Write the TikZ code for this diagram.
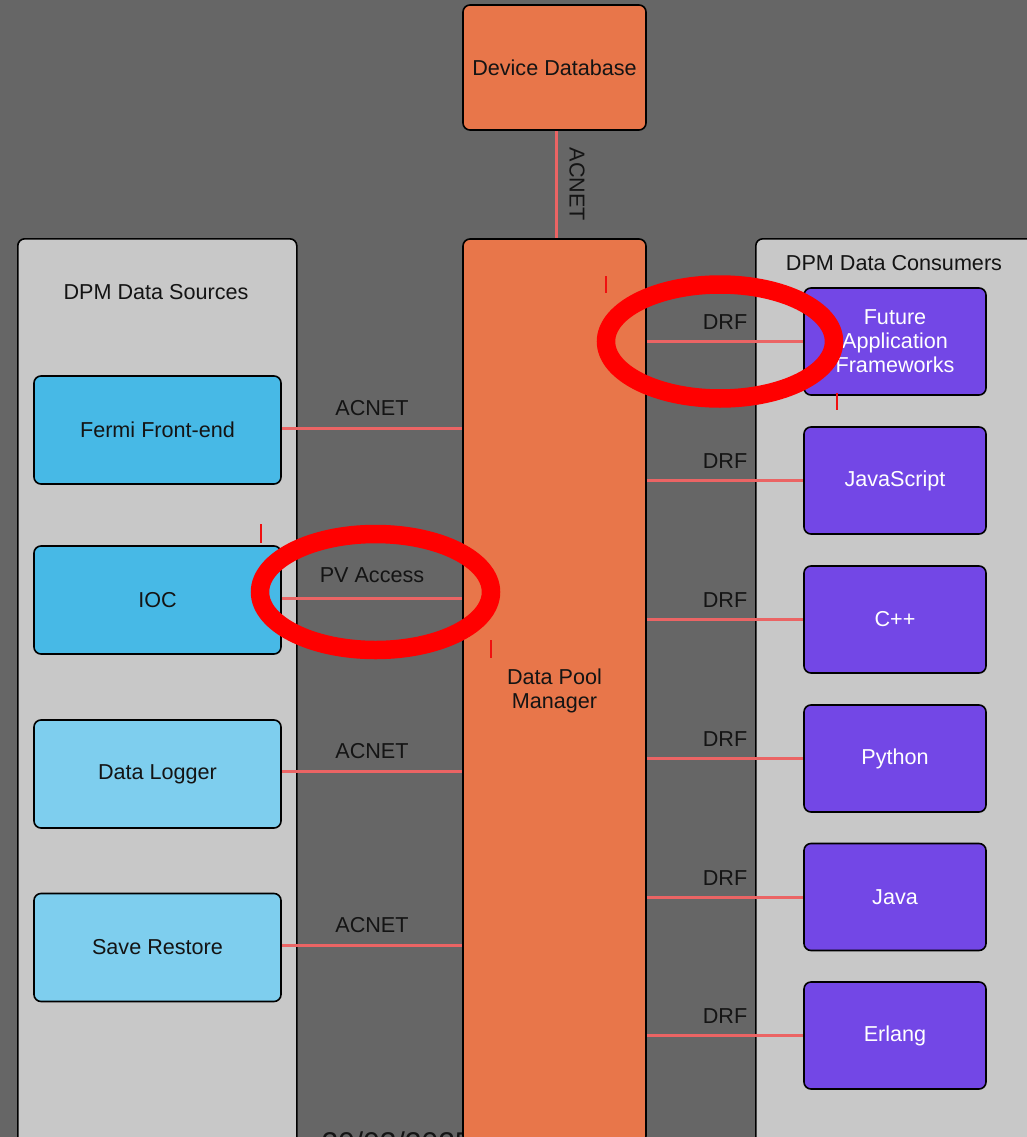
\documentclass[tikz,border=0pt]{standalone}
\usepackage{fontspec}
\setmainfont{Liberation Sans}
\definecolor{bgcol}{HTML}{666666}
\definecolor{panel}{HTML}{C8C8C8}
\definecolor{orangec}{HTML}{E8764A}
\definecolor{bluedark}{HTML}{47B9E6}
\definecolor{bluelight}{HTML}{7ECEEE}
\definecolor{purplec}{HTML}{7347E6}
\definecolor{linec}{HTML}{EB6464}
\definecolor{txt}{HTML}{141414}
\definecolor{tickc}{HTML}{F01010}
\newcommand{\dfont}{\fontsize{21.6}{24}\selectfont}
\begin{document}
\begin{tikzpicture}[x=1pt,y=-1pt,
  every node/.style={font=\dfont, text=txt},
  rbox/.style={draw=black, line width=1.6pt, rounded corners=7pt, inner sep=0pt, align=center},
  container/.style={rbox, fill=panel, anchor=north west},
  orangebox/.style={rbox, fill=orangec, minimum width=183pt},
  srcdark/.style={rbox, fill=bluedark, minimum width=247pt, minimum height=108pt},
  srclight/.style={rbox, fill=bluelight, minimum width=247pt, minimum height=108pt},
  consumer/.style={rbox, fill=purplec, minimum width=182pt, minimum height=107pt, text=white},
  conn/.style={draw=linec, line width=3pt},
  lbl/.style={midway, yshift=20pt},
  redring/.style={draw=red, line width=18.5pt},
  tick/.style={draw=tickc, line width=1.2pt}]
\useasboundingbox (0,0) rectangle (1027,1137);
\clip (0,0) rectangle (1027,1137);
\fill[bgcol] (0,0) rectangle (1027,1137);

% containers
\node[container, minimum width=279pt, minimum height=950pt] (src) at (17,238) {};
\node[container, minimum width=320pt, minimum height=950pt] (cons) at (755,238) {};
\node (srctitle) at (156,292) {DPM Data Sources};
\node (constitle) at (894,263) {DPM Data Consumers};

% partially hidden date text
\node[anchor=base west, font=\fontsize{30}{32}\selectfont] (date) at (318,1153) {20/03/2025};

% central boxes
\node[orangebox, minimum height=125pt] (db) at (554.5,67.5) {Device Database};
\node[orangebox, minimum height=904pt] (dpm) at (554.5,691) {Data Pool\\Manager};

% sources
\node[srcdark] (fermi) at (157.5,430) {Fermi Front-end};
\node[srcdark] (ioc) at (157.5,600) {IOC};
\node[srclight] (logger) at (157.5,774) {Data Logger};
\node[srclight] (save) at (157.5,947.5) {Save Restore};

% consumers
\node[consumer] (future) at (895,341.5) {Future\\Application\\Frameworks};
\node[consumer] (js) at (895,480.5) {JavaScript};
\node[consumer] (cpp) at (895,619.5) {C++};
\node[consumer] (py) at (895,758.5) {Python};
\node[consumer] (java) at (895,897) {Java};
\node[consumer] (erl) at (895,1035.5) {Erlang};

% connectors
\draw[conn] ([xshift=1.5pt]db.south) -- ([xshift=1.5pt]dpm.north) node[midway, xshift=21pt, rotate=-90] {ACNET};
\draw[conn] ([yshift=2pt]fermi.east) -- ([yshift=2pt]fermi.east -| dpm.west) node[lbl] {ACNET};
\draw[conn] ([yshift=2pt]ioc.east) -- ([yshift=2pt]ioc.east -| dpm.west) node[lbl, yshift=3pt] {PV Access};
\draw[conn] ([yshift=3pt]logger.east) -- ([yshift=3pt]logger.east -| dpm.west) node[lbl] {ACNET};
\draw[conn] ([yshift=2.5pt]save.east) -- ([yshift=2.5pt]save.east -| dpm.west) node[lbl] {ACNET};
\foreach \c in {future,js,cpp,py,java,erl}{
  \draw[conn] (\c.west -| dpm.east) -- (\c.west) node[lbl, yshift=-1pt] {DRF};
}

% annotation rings and ticks
\draw[redring] (720,341.5) ellipse [x radius=114pt, y radius=57pt];
\draw[redring] (375.5,592) ellipse [x radius=115.5pt, y radius=58pt];
\coordinate (t1a) at (606,276); \coordinate (t1b) at (606,293);
\coordinate (t2a) at (261,524); \coordinate (t2b) at (261,543);
\coordinate (t3a) at (491,640); \coordinate (t3b) at (491,658);
\coordinate (t4a) at (837,393); \coordinate (t4b) at (837,410);
\draw[tick] (t1a) -- (t1b);
\draw[tick] (t2a) -- (t2b);
\draw[tick] (t3a) -- (t3b);
\draw[tick] (t4a) -- (t4b);
\end{tikzpicture}
\end{document}
